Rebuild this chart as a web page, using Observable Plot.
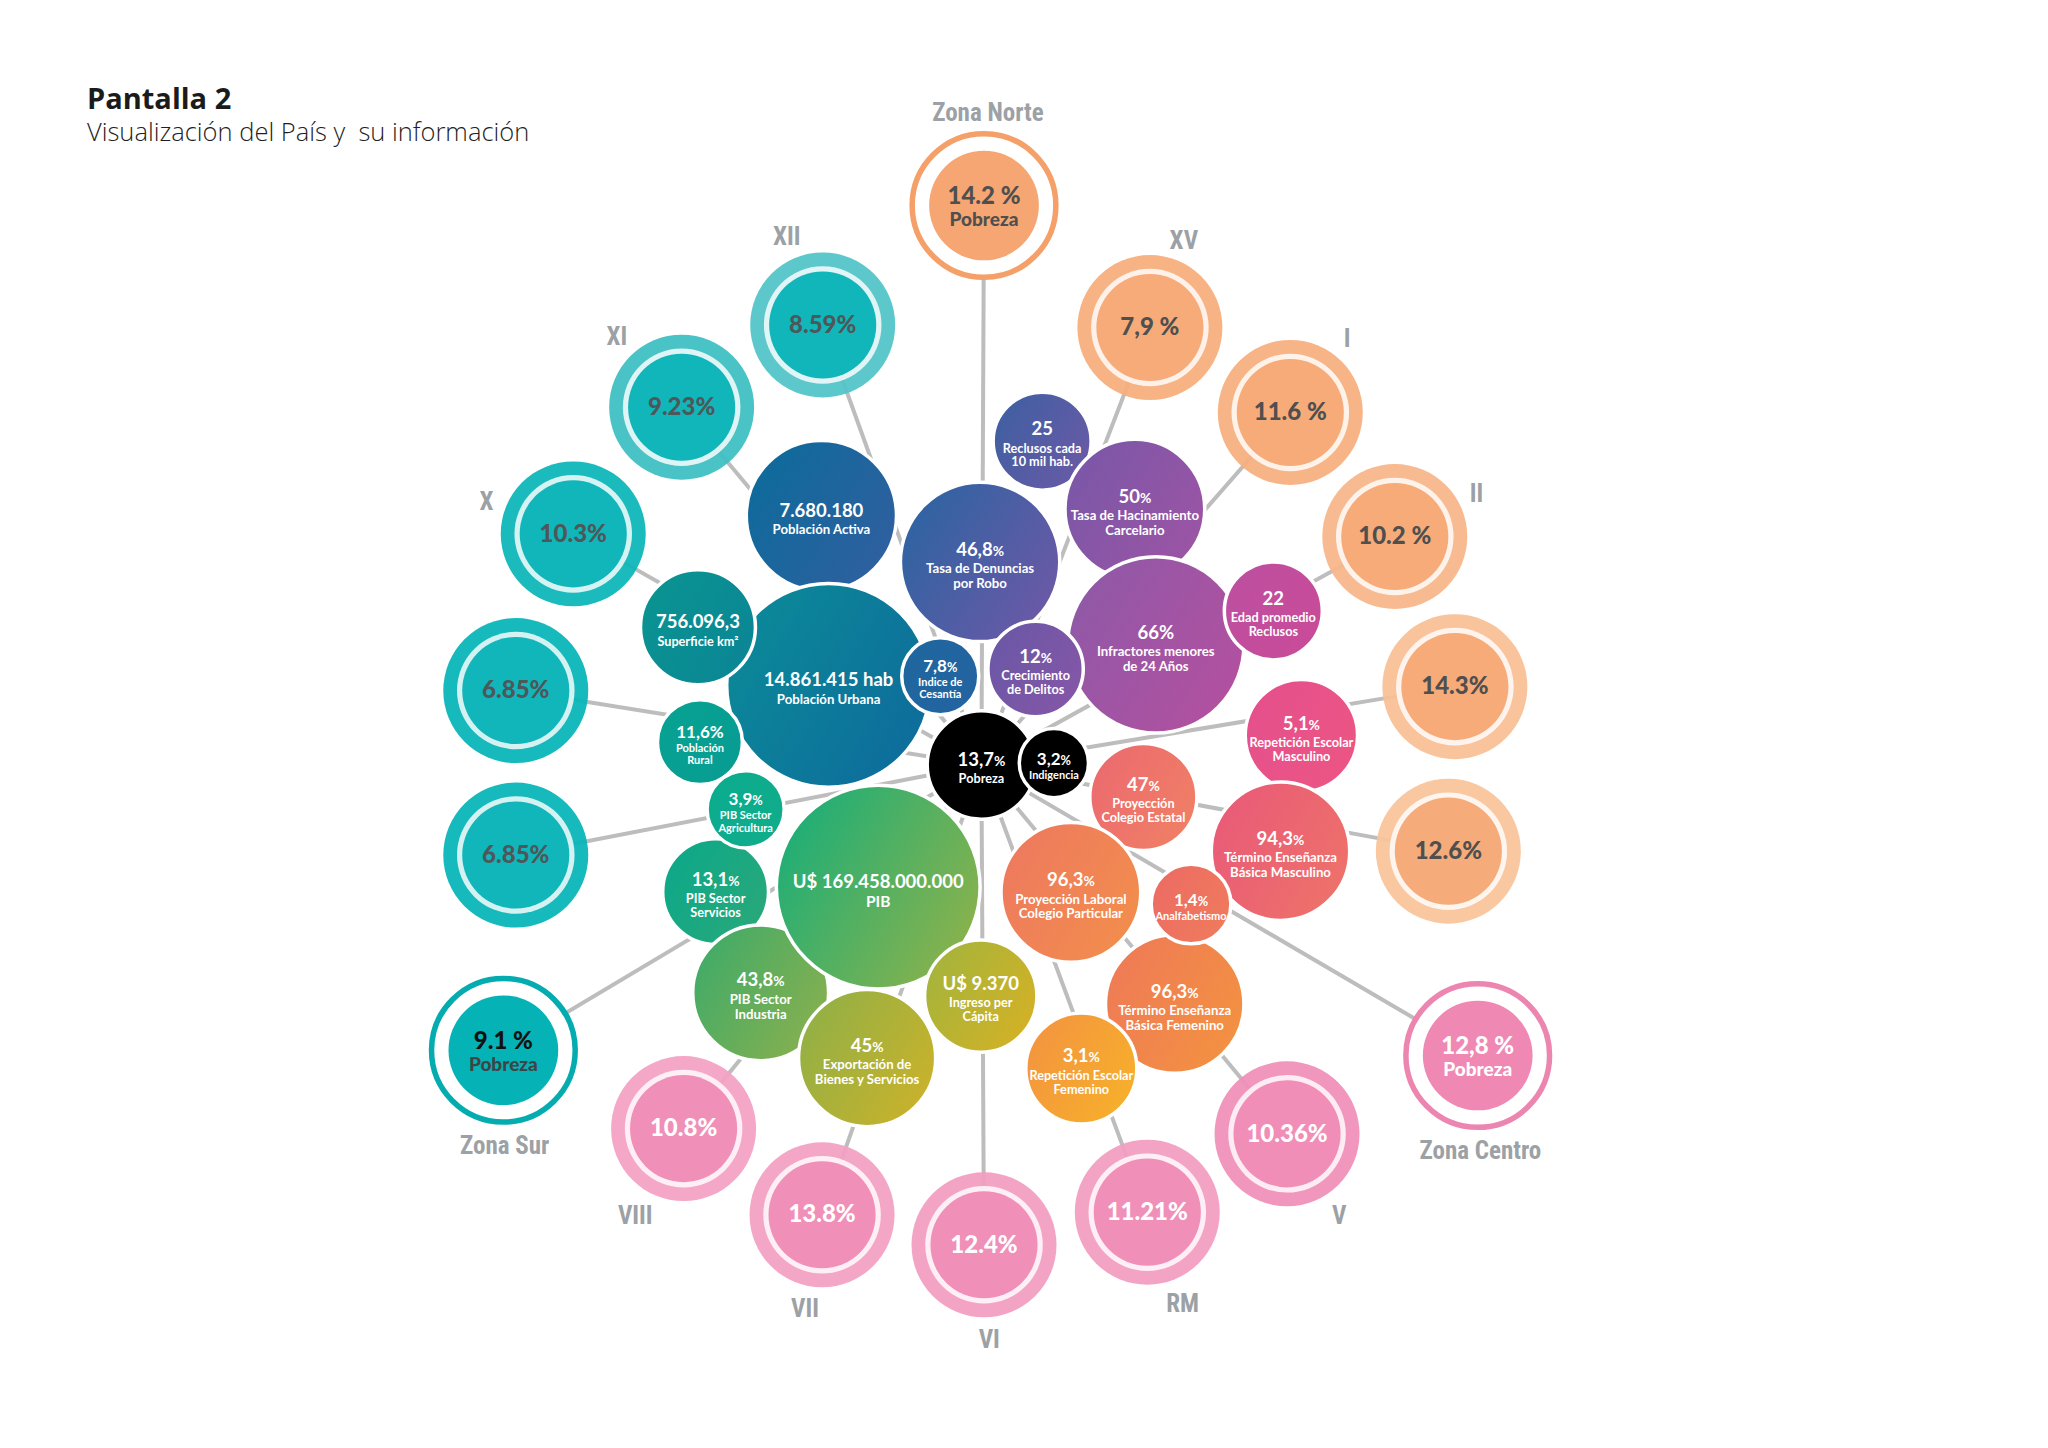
<!DOCTYPE html>
<html>
<head>
<meta charset="utf-8">
<script src="https://cdn.jsdelivr.net/npm/d3@7"></script>
<script src="https://cdn.jsdelivr.net/npm/@observablehq/plot@0.6"></script>
<style>
html, body { margin: 0; padding: 0; background: #fff; }
#wrap { position: relative; width: 2048px; height: 1448px; overflow: hidden; }
#chart { position: absolute; left: 0; top: 0; }
.t1 { position: absolute; left: 87px; top: 83px; font-family: "Open Sans", sans-serif; font-weight: 700; font-size: 29px; line-height: 1; color: #1b1b1b; white-space: pre; }
.t2 { position: absolute; left: 87px; top: 119px; font-family: "Open Sans", sans-serif; font-weight: 300; font-size: 25.5px; line-height: 1; color: #1f1f1f; white-space: pre; }
</style>
</head>
<body>
<div id="wrap">
  <div id="chart"></div>
  <div class="t1">Pantalla 2</div>
  <div class="t2">Visualización del País y  su información</div>
</div>
<script>
// ---------------- DATA ----------------
// Outer ring: poverty rate per zone / region
const outerName  = ["Zona Norte","XV","I","II","","","Zona Centro","V","RM","VI","VII","VIII","Zona Sur","","","X","XI","XII"];
const outerValue = ["14.2 %","7,9 %","11.6 %","10.2 %","14.3%","12.6%","12,8 %","10.36%","11.21%","12.4%","13.8%","10.8%","9.1 %","6.85%","6.85%","10.3%","9.23%","8.59%"];
const outerZone  = ["norte","norte","norte","norte","norte","norte","centro","centro","centro","centro","centro","centro","sur","sur","sur","sur","sur","sur"];
const outerKind  = ["zona","region","region","region","region","region","zona","region","region","region","region","region","zona","region","region","region","region","region"];

// Inner cluster: national indicators
const bubbleValue = ["7.680.180","46,8%","25","50%","66%","14.861.415 hab","756.096,3","11,6%","7,8%","12%","22","5,1%","94,3%","47%","96,3%","96,3%","1,4%","3,1%","13,1%","43,8%","U$ 169.458.000.000","3,9%","45%","U$ 9.370","13,7%","3,2%"];
const bubbleLabel = ["Población Activa","Tasa de Denuncias\npor Robo","Reclusos cada\n10 mil hab.","Tasa de Hacinamiento\nCarcelario","Infractores menores\nde 24 Años","Población Urbana","Superficie km²","Población\nRural","Indice de\nCesantía","Crecimiento\nde Delitos","Edad promedio\nReclusos","Repetición Escolar\nMasculino","Término Enseñanza\nBásica Masculino","Proyección\nColegio Estatal","Proyección Laboral\nColegio Particular","Término Enseñanza\nBásica Femenino","Analfabetismo","Repetición Escolar\nFemenino","PIB Sector\nServicios","PIB Sector\nIndustria","PIB","PIB Sector\nAgricultura","Exportación de\nBienes y Servicios","Ingreso per\nCápita","Pobreza","Indigencia"];

// ---------------- LAYOUT (reference pixel units, 1568 x 1109) ----------------
const outerX = [753,880,987.5,1067.5,1113.5,1108.5,1131,985,878,753,629,523,385,394.5,394.5,438.5,521.5,629.5];
const outerY = [157,250.5,315.5,410.5,525.5,651.5,808,868,928,953,930,864,804,528.5,654.5,408.5,311.5,248.5];
const labelX = [756,906,1031,1130,0,0,1133,1025,905,757,616,486,386,0,0,372,472,602];
const labelY = [86,184,259,378,0,0,881,931,998,1026,1002,931,877,0,0,384,258,181];

const bubbleX = [628.5,750,797.5,868.5,884.5,634,534,535.5,719.5,792.5,974.5,996,980,875,819.5,899,911.5,827.5,547.5,582,672,570.5,663.5,750.5,751,806.5];
const bubbleY = [394.5,430,337.5,389.5,493.5,524.5,480,568,517.5,512,467.5,563,651.5,610,683,768.5,692,818,682.5,760,679,619.5,810,762.5,585.5,584];
const bubbleR = [57.5,61,37.5,53.5,67.5,78,44,32.5,29.5,36.5,37.5,43,53,41,53.5,53,30.5,42.5,40.5,52,78,29.5,52.5,43,41.5,26.5];

// ---------------- STYLE ----------------
const bubbleC1 = ["#0d6b9b","#2c64a2","#3f5fa2","#7a57a8","#8e59a7","#0b8a98","#0a9491","#07a293","#1e679f","#6958a6","#bd4fa0","#e5508d","#e95a78","#ec6a6f","#ee795f","#ef7a57","#ed6b64","#f39440","#0ca88a","#3fab68","#1aae78","#0bab8f","#90b046","#a3b43c","#000000","#000000"];
const bubbleC2 = ["#305f9f","#6e58a6","#6a5aa6","#9d54a4","#b4509f","#0e6b9c","#0b8595","#089c92","#2463a1","#8656a6","#c94b98","#ec5583","#ee7269","#f08065","#f28e4c","#f39240","#ef7b5c","#f7b02a","#2aa879","#8ab04e","#8fb24a","#10ad8a","#cbb22a","#d5b125","#000000","#000000"];
const ringColor  = ["#f4a068","#f7ae7c","#f7b07f","#f8b78a","#f9bf95","#f9c39a","#ec86b1","#f08fb8","#f29ec1","#f29ec1","#f3a0c2","#f3a2c4","#04acb0","#07b5b8","#07b5b8","#0db6b9","#3ebfc2","#52c5c8"];
const zoneInner  = {norte: "#f6a673", centro: "#ef89b3", sur: "#05b2b6"};
const zoneText   = {norte: "#4f4f4f", centro: "#ffffff", sur: "#4e5759"};

const K = 2048 / 1568;
const outer = outerValue.map((v, i) => ({
  name: outerName[i], value: v, zone: outerZone[i], kind: outerKind[i],
  x: outerX[i], y: outerY[i], lx: labelX[i], ly: labelY[i], ring: ringColor[i]
}));
const regions = outer.filter(d => d.kind === "region");
const zonas = outer.filter(d => d.kind === "zona");
const labeled = outer.filter(d => d.name !== "");

const bubbles = bubbleValue.map((v, i) => ({
  value: v, label: bubbleLabel[i], x: bubbleX[i], y: bubbleY[i], r: bubbleR[i],
  c1: bubbleC1[i], c2: bubbleC2[i], id: "grad" + i
}));
const hub = bubbles.find(d => d.label === "Pobreza");

// text sizing (page px) derived from bubble size
const fsVal = d => d.r >= 36 ? 18.5 : 17;
const fsLab = d => d.label === "PIB" ? 15.5 : d.r >= 50 ? 13.2 : d.r >= 36 ? 12.7 : 11;
const nLines = d => d.label.split("\n").length;
const gapVL = d => d.r >= 36 ? 18 : 15;
const lineH = d => fsLab(d) * 1.1;
const span = d => gapVL(d) + (nLines(d) - 1) * lineH(d);
const valOff = d => (4 - span(d) / 2) / K;
const labOff = d => (4 - span(d) / 2 + gapVL(d) - 0.36 * fsLab(d)) / K;

const bubbleFont = "Lato, 'Open Sans', sans-serif";
const outerFont = "Lato, 'DejaVu Sans', sans-serif";
const labelFont = "'Liberation Sans Narrow', 'Roboto Condensed', 'DejaVu Sans Condensed', sans-serif";

const svg = Plot.plot({
  width: 2048, height: 1448, margin: 0,
  x: {domain: [0, 1568], range: [0, 2048], axis: null},
  y: {domain: [0, 1109], range: [0, 1448], axis: null},
  r: {type: "linear", domain: [0, 100], range: [0, 100 * K]},
  color: {type: "identity"},
  style: {background: "transparent"},
  marks: [
    // connectors from the poverty hub to every zone / region
    Plot.link(outer, {x1: () => hub.x, y1: () => hub.y, x2: "x", y2: "y", stroke: "#bdbdbd", strokeWidth: 4}),
    // regions: outer ring, light ring, inner disc
    Plot.dot(regions, {x: "x", y: "y", r: () => 55.5, fill: "ring", fillOpacity: 0.94, sort: null}),
    Plot.dot(regions, {x: "x", y: "y", r: () => 45, fill: "#ffffff", fillOpacity: 0.82, sort: null}),
    Plot.dot(regions, {x: "x", y: "y", r: () => 41, fill: d => zoneInner[d.zone], fillOpacity: 0.95, sort: null}),
    // zones: outlined ring + inner disc
    Plot.dot(zonas, {x: "x", y: "y", r: () => 55, fill: "#ffffff", stroke: "ring", strokeWidth: 5.5, sort: null}),
    Plot.dot(zonas, {x: "x", y: "y", r: () => 42, fill: d => zoneInner[d.zone], sort: null}),
    // inner bubbles
    Plot.dot(bubbles, {x: "x", y: "y", r: "r", fill: d => `url(#${d.id})`, stroke: "#ffffff", strokeWidth: 3.5, sort: null}),
    // bubble texts
    Plot.text(bubbles, {x: "x", y: d => d.y + valOff(d), text: "value", fill: "#ffffff", fontWeight: 700,
      fontSize: fsVal, fontFamily: bubbleFont, textAnchor: "middle", lineAnchor: "middle"}),
    Plot.text(bubbles, {x: "x", y: d => d.y + labOff(d), text: "label", fill: "#ffffff", fontWeight: 700,
      fontSize: fsLab, fontFamily: bubbleFont, textAnchor: "middle", lineAnchor: "top", lineHeight: 1.1}),
    // region values
    Plot.text(regions, {x: "x", y: "y", text: "value", fill: d => zoneText[d.zone], fontWeight: 900,
      fontSize: 24, fontFamily: outerFont, textAnchor: "middle", lineAnchor: "middle"}),
    // zone values
    Plot.text(zonas, {x: "x", y: d => d.y - 7, text: "value", fill: d => d.zone === "sur" ? "#111111" : zoneText[d.zone], fontWeight: 900,
      fontSize: 24, fontFamily: outerFont, textAnchor: "middle", lineAnchor: "middle"}),
    Plot.text(zonas, {x: "x", y: d => d.y + 11, text: () => "Pobreza", fill: d => d.zone === "sur" ? "#3d4547" : zoneText[d.zone], fontWeight: 900,
      fontSize: 19, fontFamily: outerFont, textAnchor: "middle", lineAnchor: "middle"}),
    // region / zone names
    Plot.text(labeled, {x: "lx", y: "ly", text: "name", fill: "#9ca1a5", fontWeight: 700,
      fontSize: 25, fontFamily: labelFont, textAnchor: "middle", lineAnchor: "middle"})
  ]
});

document.getElementById("chart").append(svg);

// gradients for the inner bubbles
const defs = d3.select(svg).insert("defs", ":first-child");
bubbles.forEach(b => {
  const g = defs.append("linearGradient").attr("id", b.id)
    .attr("x1", "0").attr("y1", "0.2").attr("x2", "1").attr("y2", "0.8");
  g.append("stop").attr("offset", "0").attr("stop-color", b.c1);
  g.append("stop").attr("offset", "1").attr("stop-color", b.c2);
});

// smaller "%" sign in the inner bubble values
const fullPct = new Set(["66%", "11,6%"]);
d3.select(svg).selectAll("text").each(function () {
  if (this.childElementCount) return;
  const t = this.textContent;
  if (/^\d+(,\d+)?%$/.test(t) && !fullPct.has(t)) {
    this.textContent = t.slice(0, -1);
    d3.select(this).append("tspan").attr("font-size", "0.75em").text("%");
  }
});
</script>
</body>
</html>
